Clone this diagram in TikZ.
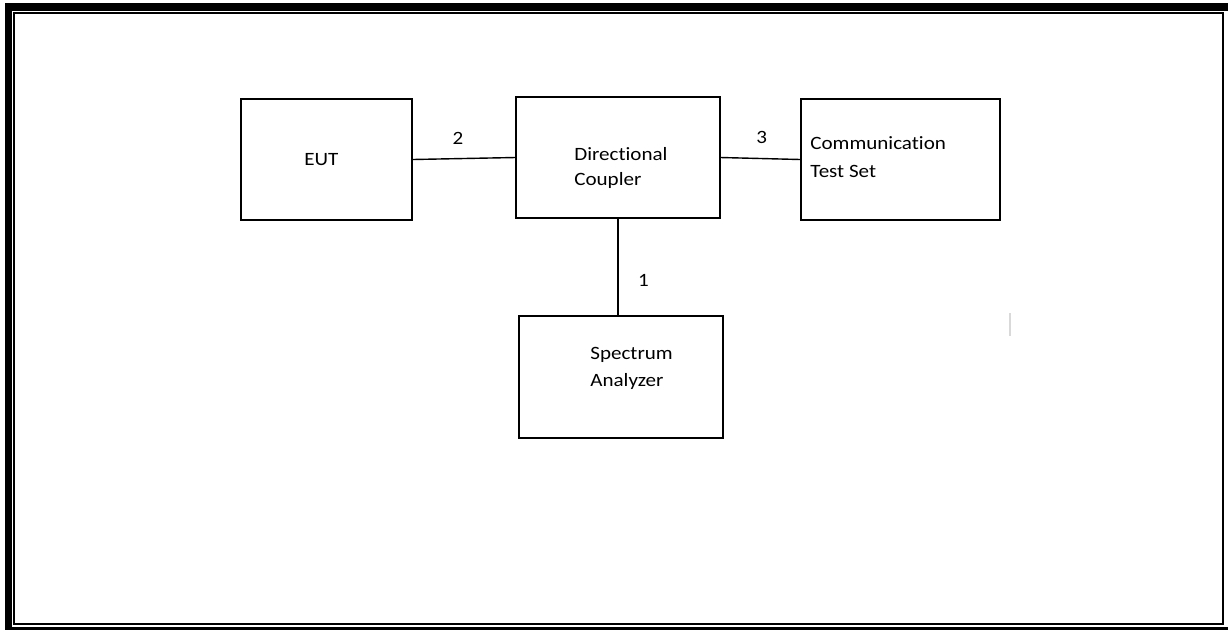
\documentclass[tikz,border=0pt]{standalone}
\usepackage{fontspec}
\setmainfont{Carlito}[FakeStretch=1.12, Ligatures=NoCommon]
\usepackage{tikz}

\begin{document}
\begin{tikzpicture}[x=0.02cm,y=-0.02cm,
  box/.style={draw=black, line width=0.8pt, minimum width=#1, minimum height=2.42cm, inner sep=0pt},
  lbl/.style={anchor=base west, inner sep=0pt, align=left, font=\fontsize{10.7}{#1}\selectfont},
  lbl/.default=15pt,
  num/.style={anchor=base, inner sep=0pt, font=\fontsize{10.7}{13}\selectfont},
  wire/.style={black, line width=0.8pt}]
\useasboundingbox (0,0) rectangle (1228,630);

% page frame
\draw[black, line width=4pt] (5,7) -- (1228,7);
\draw[black, line width=4pt] (8.5,4) -- (8.5,630);
\draw[black, line width=1.7pt] (5,628.3) -- (1228,628.3);
\draw[black, line width=1.1pt] (14,13) rectangle (1223,624);

% boxes
\node[box=3.42cm] (eut) at (326.5,159.5) {};
\node[box=4.08cm] (coupler) at (618,157.5) {};
\node[box=3.98cm] (testset) at (900.5,159.5) {};
\node[box=4.08cm, minimum height=2.44cm] (analyzer) at (621,377) {};

% base of the last line
\node[lbl] (eutText) at (304,165) {EUT};
\node[lbl=14.2pt] (couplerText) at (574,185.7) {Directional\\Coupler};
\node[lbl=15.9pt] (testsetText) at (810,177.3) {Communication\\Test Set};
\node[lbl=15.6pt] (analyzerText) at (590,386.7) {Spectrum\\Analyzer};

% cables
\draw[wire] (eut.east) -- (coupler.west);
\draw[wire] (coupler.east) -- (testset.west);
\draw[wire] (coupler.south) -- (coupler.south |- analyzer.north);

\node[num] (portTwo) at (458,144) {2};
\node[num] (portThree) at (761.7,143.3) {3};
\node[num] (portOne) at (643.5,286) {1};

\draw[gray!30, line width=0.8pt] (1010,313) -- (1010,336);
\end{tikzpicture}
\end{document}
